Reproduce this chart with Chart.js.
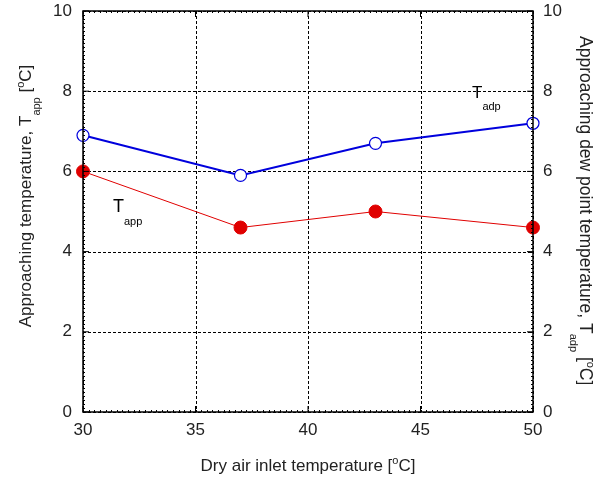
<!DOCTYPE html>
<html><head><meta charset="utf-8">
<script src="https://cdn.jsdelivr.net/npm/chart.js@4"></script>
<style>html,body{margin:0;padding:0;background:#fff}#wrap{width:607px;height:480px}</style>
</head><body><div id="wrap"><canvas id="c" width="607" height="480"></canvas></div>
<script>
const xValues = [30, 37, 43, 50];
const tapp = [6.0, 4.6, 5.0, 4.6];
const tadp = [6.9, 5.9, 6.7, 7.2];
const xTicks = [30, 35, 40, 45, 50];
const yTicks = [0, 2, 4, 6, 8, 10];
const FONT = '"Liberation Sans", Arial, sans-serif';

function drawRich(ctx, parts, x, y, size, subSize, subOff, supOff) {
  let cx = x;
  for (const [t, m] of parts) {
    const s = m === 'n' ? size : subSize;
    ctx.font = s + 'px ' + FONT;
    const dy = m === 'sub' ? subOff : (m === 'sup' ? -supOff : 0);
    ctx.fillText(t, cx, y + dy);
    cx += ctx.measureText(t).width;
  }
}
function richWidth(ctx, parts, size, subSize) {
  let w = 0;
  for (const [t, m] of parts) {
    ctx.font = (m === 'n' ? size : subSize) + 'px ' + FONT;
    w += ctx.measureText(t).width;
  }
  return w;
}

const decor = {
  id: 'decor',
  beforeDatasetsDraw(chart) {
    const ctx = chart.ctx, a = chart.chartArea;
    const xs = chart.scales.x, ys = chart.scales.y;
    ctx.save();
    ctx.strokeStyle = '#000'; ctx.lineWidth = 1; ctx.setLineDash([3, 2]);
    ctx.beginPath();
    for (const v of yTicks) {
      const py = Math.round(ys.getPixelForValue(v)) + 0.5;
      ctx.moveTo(a.left, py); ctx.lineTo(a.right, py);
    }
    for (const v of xTicks) {
      const px = Math.round(xs.getPixelForValue(v)) + 0.5;
      ctx.moveTo(px, a.top); ctx.lineTo(px, a.bottom);
    }
    ctx.stroke();
    ctx.restore();
  },
  afterDraw(chart) {
    const ctx = chart.ctx, a = chart.chartArea;
    const xs = chart.scales.x, ys = chart.scales.y;
    ctx.save();
    ctx.strokeStyle = '#000'; ctx.lineWidth = 1.5; ctx.setLineDash([]);
    ctx.strokeRect(a.left, a.top, a.right - a.left, a.bottom - a.top);
    ctx.lineWidth = 1;
    ctx.beginPath();
    for (let v = 0; v <= 10.001; v += 0.1) {
      const py = Math.round(ys.getPixelForValue(v)) + 0.5;
      ctx.moveTo(a.left, py); ctx.lineTo(a.left + 2, py);
      ctx.moveTo(a.right, py); ctx.lineTo(a.right - 2, py);
    }
    for (let v = 30; v <= 50.001; v += 0.25) {
      const px = Math.round(xs.getPixelForValue(v)) + 0.5;
      ctx.moveTo(px, a.top); ctx.lineTo(px, a.top + 2);
      ctx.moveTo(px, a.bottom); ctx.lineTo(px, a.bottom - 2);
    }
    for (const v of yTicks) {
      const py = ys.getPixelForValue(v);
      ctx.moveTo(a.left, py); ctx.lineTo(a.left + 6, py);
      ctx.moveTo(a.right, py); ctx.lineTo(a.right - 6, py);
    }
    for (const v of xTicks) {
      const px = xs.getPixelForValue(v);
      ctx.moveTo(px, a.top); ctx.lineTo(px, a.top + 6);
      ctx.moveTo(px, a.bottom); ctx.lineTo(px, a.bottom - 6);
    }
    ctx.stroke();

    ctx.fillStyle = '#222';
    ctx.textBaseline = 'alphabetic';
    const xt = [['Dry air inlet temperature [', 'n'], ['o', 'sup'], ['C]', 'n']];
    let w = richWidth(ctx, xt, 17, 11);
    drawRich(ctx, xt, (a.left + a.right) / 2 - w / 2, 471, 17, 11, 9, 7);
    const lt = [['Approaching temperature, T', 'n'], ['app', 'sub'], [' [', 'n'], ['o', 'sup'], ['C]', 'n']];
    w = richWidth(ctx, lt, 17, 11);
    ctx.save();
    ctx.translate(31, 196);
    ctx.rotate(-Math.PI / 2);
    drawRich(ctx, lt, -w / 2, 0, 17, 11, 9, 7);
    ctx.restore();
    const rt = [['Approaching dew point temperature, T', 'n'], ['adp', 'sub'], [' [', 'n'], ['o', 'sup'], ['C]', 'n']];
    ctx.save();
    ctx.translate(580, 36);
    ctx.rotate(Math.PI / 2);
    drawRich(ctx, rt, 0, 0, 17.5, 11, 10, 7);
    ctx.restore();
    ctx.fillStyle = '#000';
    drawRich(ctx, [['T', 'n'], ['app', 'sub']], 113, 212, 18, 11, 13, 0);
    drawRich(ctx, [['T', 'n'], ['adp', 'sub']], 472, 98, 17, 11, 12, 0);
    ctx.restore();
  }
};

function fitV(width) {
  return s => { s.width = width; s.paddingTop = 0; s.paddingBottom = 0; };
}

new Chart(document.getElementById('c'), {
  type: 'scatter',
  data: {
    datasets: [
      {
        label: 'Tadp',
        data: xValues.map((x, i) => ({ x, y: tadp[i] })),
        showLine: true, borderColor: '#0000dd', borderWidth: 2,
        pointRadius: 6, pointBackgroundColor: '#fff', pointBorderColor: '#0000dd', pointBorderWidth: 1.2,
        clip: false
      },
      {
        label: 'Tapp',
        data: xValues.map((x, i) => ({ x, y: tapp[i] })),
        showLine: true, borderColor: '#e00000', borderWidth: 1,
        pointRadius: 6.5, pointBackgroundColor: '#e00000', pointBorderColor: '#e00000', pointBorderWidth: 1,
        clip: false
      }
    ]
  },
  options: {
    responsive: false, animation: false,
    layout: { padding: { top: 11, left: 0, right: 0, bottom: 0 } },
    plugins: { legend: { display: false }, tooltip: { enabled: false } },
    scales: {
      x: {
        type: 'linear', min: 30, max: 50,
        afterBuildTicks: s => { s.ticks = xTicks.map(v => ({ value: v })); },
        afterFit: s => { s.height = 68; s.paddingLeft = 0; s.paddingRight = 0; },
        grid: { display: false, drawTicks: false },
        border: { display: false },
        ticks: { color: '#222', font: { family: FONT, size: 17 }, padding: 8 }
      },
      y: {
        type: 'linear', position: 'left', min: 0, max: 10,
        afterBuildTicks: s => { s.ticks = yTicks.map(v => ({ value: v })); },
        afterFit: fitV(83),
        grid: { display: false, drawTicks: false },
        border: { display: false },
        ticks: { color: '#222', font: { family: FONT, size: 17 }, padding: 11 }
      },
      y2: {
        type: 'linear', position: 'right', min: 0, max: 10,
        afterBuildTicks: s => { s.ticks = yTicks.map(v => ({ value: v })); },
        afterFit: fitV(74),
        grid: { display: false, drawTicks: false },
        border: { display: false },
        ticks: { color: '#222', font: { family: FONT, size: 17 }, padding: 10 }
      }
    }
  },
  plugins: [decor]
});
</script>
</body></html>
